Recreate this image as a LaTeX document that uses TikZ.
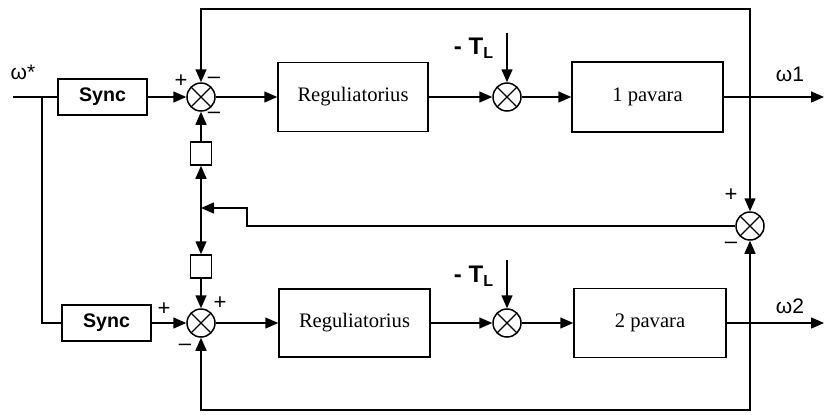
\documentclass[tikz,border=0pt]{standalone}
\usepackage{fontspec}
\setmainfont{Liberation Serif}
\setsansfont{Liberation Sans}
\usetikzlibrary{arrows.meta}
\begin{document}
\begin{tikzpicture}[x=0.5pt,y=-0.5pt,line width=0.75pt,
  >={Triangle[length=6.5pt,width=5.5pt]},
  blk/.style={draw,rectangle,inner sep=0pt,font=\fontsize{10.3}{12}\selectfont},
  syncbox/.style={draw,rectangle,minimum width=44.5pt,minimum height=18pt,inner sep=0pt,
    font=\sffamily\bfseries\fontsize{9.8}{12}\selectfont},
  smallbox/.style={draw,rectangle,minimum width=10.5pt,minimum height=11.5pt,inner sep=0pt},
  sumj/.style={draw,circle,minimum size=14pt,inner sep=0pt,
    path picture={\draw[line width=0.6pt]
      (path picture bounding box.north west) -- (path picture bounding box.south east)
      (path picture bounding box.north east) -- (path picture bounding box.south west);}},
  sgn/.style={font=\sffamily\fontsize{11}{12}\selectfont,inner sep=0pt},
  lab/.style={font=\sffamily\fontsize{10.5}{12}\selectfont,inner sep=0pt},
  tl/.style={font=\sffamily\bfseries\fontsize{12}{14}\selectfont,inner sep=0pt}]
\useasboundingbox (0,0) rectangle (825,414);
% nodes
\node[syncbox] (s1) at (102.5,97) {Sync};
\node[sumj] (j1) at (201,97) {};
\node[blk,minimum width=75pt,minimum height=34.5pt] (r1) at (353,97) {Reguliatorius};
\node[sumj] (t1) at (507,97) {};
\node[blk,minimum width=75.5pt,minimum height=35pt] (p1) at (647.5,97) {1 pavara};
\node[sumj] (jr) at (750,226) {};
\node[smallbox] (b1) at (201,153.5) {};
\node[smallbox] (b2) at (201,266.5) {};
\node[syncbox] (s2) at (106.5,323) {Sync};
\node[sumj] (j2) at (201,323) {};
\node[blk,minimum width=75.5pt,minimum height=34pt] (r2) at (354.5,323) {Reguliatorius};
\node[sumj] (t2) at (507,323) {};
\node[blk,minimum width=76pt,minimum height=34.5pt] (p2) at (650,323) {2 pavara};
% coordinates
\coordinate (in) at (13,97);
\coordinate (br) at (42,97);
\coordinate (o1) at (824,97);
\coordinate (o2) at (824,323);
\coordinate (c1) at (750,97);
\coordinate (c2) at (750,323);
\coordinate (tt) at (750,9);
\coordinate (bb) at (750,410);
\coordinate (d1) at (507,33);
\coordinate (d2) at (507,260);
\coordinate (m) at (201,208);
\coordinate (k1) at (247,226);
\coordinate (k2) at (247,208);
% connectors
\draw (in) -- (s1.west);
\draw (br) |- (s2.west);
\draw[->] (s1) -- (j1);
\draw[->] (j1) -- (r1);
\draw[->] (r1) -- (t1);
\draw[->] (t1) -- (p1);
\draw[->] (p1) -- (o1);
\draw[->] (s2) -- (j2);
\draw[->] (j2) -- (r2);
\draw[->] (r2) -- (t2);
\draw[->] (t2) -- (p2);
\draw[->] (p2) -- (o2);
\draw[->] (c1) -- (tt) -| (j1.north);
\draw[->] (c1) -- (jr.north);
\draw[->] (c2) -- (bb) -| (j2.south);
\draw[->] (c2) -- (jr.south);
\draw[->] (b1) -- (j1);
\draw[<->] (b1) -- (b2);
\draw[->] (b2) -- (j2);
\draw[->] (jr.west) -- (k1) -- (k2) -- (m);
\draw[->] (d1) -- (t1);
\draw[->] (d2) -- (t2);
% labels
\node[lab] (lw) at (23,72) {ω*};
\node[lab] (lw1) at (790,74) {ω1};
\node[lab] (lw2) at (790,306) {ω2};
\node[tl] (tl1) at (474,48) {- T\textsubscript{L}};
\node[tl] (tl2) at (474,276) {- T\textsubscript{L}};
% signs
\node[sgn] (g1) at (181,81) {+};
\node[sgn] (g2) at (214,80) {–};
\node[sgn] (g3) at (214,115) {–};
\node[sgn] (g4) at (220,303) {+};
\node[sgn] (g5) at (164,309) {+};
\node[sgn] (g6) at (185,347) {–};
\node[sgn] (g7) at (731,195) {+};
\node[sgn] (g8) at (731,245) {–};
\end{tikzpicture}
\end{document}
